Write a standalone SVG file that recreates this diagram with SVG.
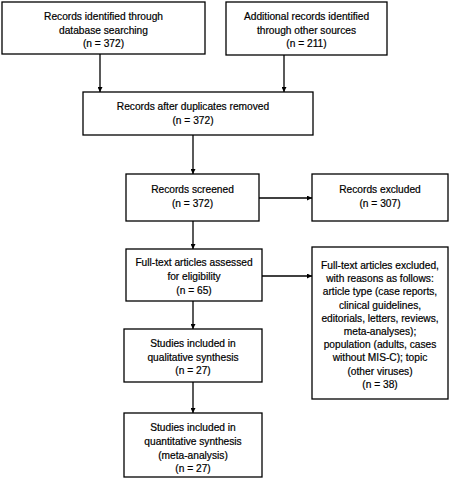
<svg xmlns="http://www.w3.org/2000/svg" width="450" height="487" viewBox="0 0 450 487">
<defs>
<style>
.box{fill:#fff;stroke:#000;stroke-width:1.3}
.t{font-family:"Liberation Sans",Arial,sans-serif;font-size:10.2px;fill:#000;stroke:#000;stroke-width:0.2;text-anchor:middle}
.c{stroke:#000;stroke-width:1.3;fill:none;marker-end:url(#ah)}
</style>
<marker id="ah" viewBox="0 0 10 10" refX="10" refY="5" markerWidth="5" markerHeight="5" markerUnits="userSpaceOnUse" orient="auto">
<path d="M0,0 L10,5 L0,10 z" fill="#000"/>
</marker>
</defs>
<rect width="450" height="487" fill="#fff"/>
<g id="connectors">
<line class="c" x1="100" y1="54" x2="100" y2="92"/>
<line class="c" x1="284" y1="55" x2="284" y2="92"/>
<line class="c" x1="193" y1="135" x2="193" y2="174"/>
<line class="c" x1="259" y1="198" x2="312" y2="198"/>
<line class="c" x1="193" y1="221" x2="193" y2="249"/>
<line class="c" x1="262" y1="276" x2="312" y2="276"/>
<line class="c" x1="193" y1="301" x2="193" y2="329"/>
<line class="c" x1="193" y1="382" x2="193" y2="413"/>
</g>
<g id="n1">
<rect class="box" x="2" y="2" width="203" height="52"/>
<text class="t" x="103.5" y="20">Records identified through</text>
<text class="t" x="103.5" y="33.5">database searching</text>
<text class="t" x="103.5" y="47">(n = 372)</text>
</g>
<g id="n2">
<rect class="box" x="226" y="2" width="161" height="53"/>
<text class="t" x="306.5" y="20">Additional records identified</text>
<text class="t" x="306.5" y="33.5">through other sources</text>
<text class="t" x="306.5" y="47">(n =  211)</text>
</g>
<g id="n3">
<rect class="box" x="83" y="92" width="230" height="43"/>
<text class="t" x="193" y="110">Records after duplicates removed</text>
<text class="t" x="193" y="124">(n = 372)</text>
</g>
<g id="n4">
<rect class="box" x="126" y="174" width="133" height="47"/>
<text class="t" x="192.5" y="193">Records screened</text>
<text class="t" x="192.5" y="207">(n = 372)</text>
</g>
<g id="n5">
<rect class="box" x="312" y="174" width="136" height="47"/>
<text class="t" x="380" y="193">Records excluded</text>
<text class="t" x="380" y="207">(n = 307)</text>
</g>
<g id="n6">
<rect class="box" x="126" y="249" width="136" height="52"/>
<text class="t" x="194" y="266">Full-text articles assessed</text>
<text class="t" x="194" y="280">for eligibility</text>
<text class="t" x="194" y="294">(n = 65)</text>
</g>
<g id="n7">
<rect class="box" x="312" y="247" width="136" height="152"/>
<text class="t" x="380" y="269">Full-text articles excluded,</text>
<text class="t" x="380" y="282.2">with reasons as follows:</text>
<text class="t" x="380" y="295.4">article type (case reports,</text>
<text class="t" x="380" y="308.6">clinical guidelines,</text>
<text class="t" x="380" y="321.8">editorials, letters, reviews,</text>
<text class="t" x="380" y="335">meta-analyses);</text>
<text class="t" x="380" y="348.2">population (adults, cases</text>
<text class="t" x="380" y="361.4">without MIS-C); topic</text>
<text class="t" x="380" y="374.6">(other viruses)</text>
<text class="t" x="380" y="387.8">(n = 38)</text>
</g>
<g id="n8">
<rect class="box" x="124" y="329" width="138" height="53"/>
<text class="t" x="193" y="347">Studies included in</text>
<text class="t" x="193" y="360.5">qualitative synthesis</text>
<text class="t" x="193" y="374">(n = 27)</text>
</g>
<g id="n9">
<rect class="box" x="124" y="413" width="138" height="64"/>
<text class="t" x="193" y="431">Studies included in</text>
<text class="t" x="193" y="445">quantitative synthesis</text>
<text class="t" x="193" y="458.5">(meta-analysis)</text>
<text class="t" x="193" y="472">(n = 27)</text>
</g>
</svg>
